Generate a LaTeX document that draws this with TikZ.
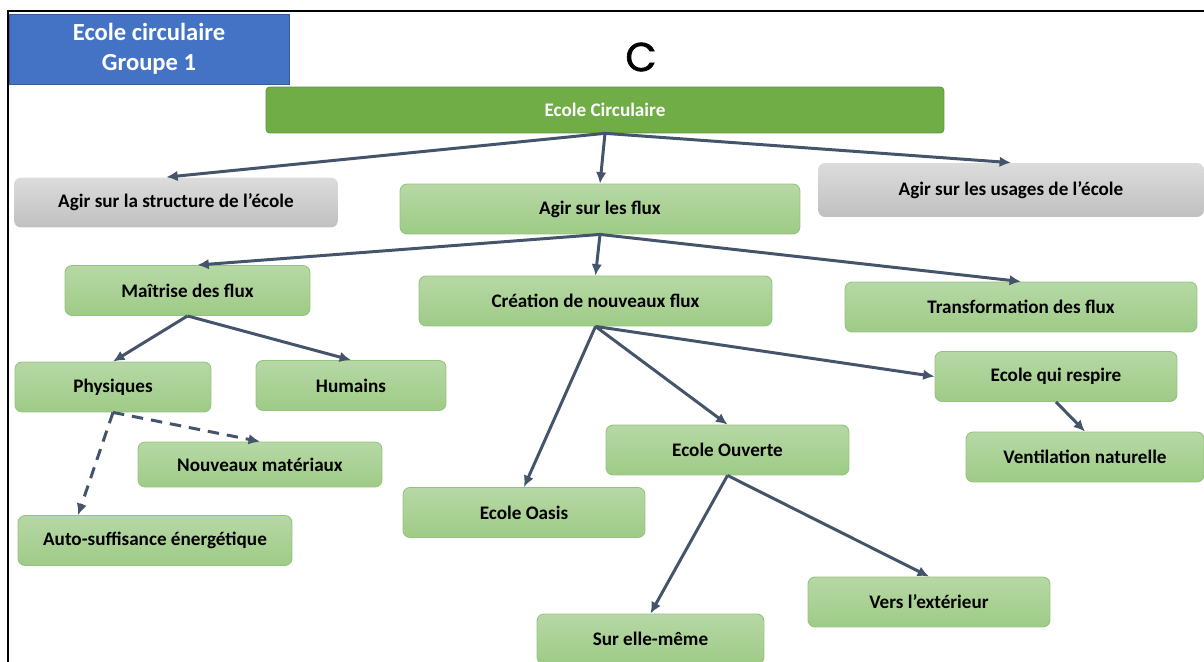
\documentclass[tikz,border=0pt]{standalone}
\usepackage{fontspec}
\setmainfont{Carlito}
\newfontfamily\gothicfont[FakeBold=1.6]{Poppins}
\usetikzlibrary{positioning, arrows.meta, calc}
\definecolor{titleblue}{HTML}{4472C4}
\definecolor{rootgreen}{HTML}{70AD47}
\definecolor{leafTop}{HTML}{B7D8A6}
\definecolor{leafBot}{HTML}{9ECB86}
\definecolor{leafEdge}{HTML}{93C47D}
\definecolor{greyTop}{HTML}{DCDCDC}
\definecolor{greyBot}{HTML}{C0C0C0}
\definecolor{linkcol}{HTML}{44546A}

\begin{document}
\begin{tikzpicture}[
            x=0.02cm, y=-0.02cm,
            box/.style={rectangle, rounded corners=4pt, minimum height=1cm,
                        font=\fontsize{10.9}{12}\selectfont\bfseries, align=center, inner sep=2pt},
            flux/.style={box, top color=leafTop, bottom color=leafBot, draw=leafEdge, line width=0.5pt},
            grey/.style={box, top color=greyTop, bottom color=greyBot, draw=none},
            root/.style={box, fill=rootgreen, draw=rootgreen!85!black, text=white, rounded corners=2pt,
                         line width=0.4pt},
            arrow/.style={-{Latex[length=6.5pt, width=6pt]}, line width=1.7pt, draw=linkcol},
            dasharrow/.style={arrow, dash pattern=on 6.5pt off 4.5pt},
        ]
            \useasboundingbox (0,0) rectangle (1204,662);

            % Frame and heading
            \draw[line width=1.2pt] (8,662) -- (8,11) -- (1204,11);
            \node[rectangle, fill=titleblue, draw=titleblue!80!black, line width=0.4pt,
                  minimum width=5.6cm, minimum height=1.4cm, text=white, align=center,
                  font=\fontsize{14}{17}\selectfont\bfseries] (title) at (149,49)
                {Ecole circulaire\\Groupe 1};
            \node[font=\gothicfont\fontsize{23}{26}\selectfont] (letter) at (641,57) {C};

            % Top levels
            \node[root, minimum width=13.56cm, minimum height=0.92cm] (ecole) at (605,110) {Ecole Circulaire};
            \node[grey, minimum width=6.48cm] (structure) at (176,202.5) {Agir sur la structure de l’école};
            \node[flux, minimum width=8cm] (agir) at (600,209) {Agir sur les flux};
            \node[grey, minimum width=7.72cm, minimum height=1.08cm] (usages) at (1011,190) {Agir sur les usages de l’école};

            \node[flux, minimum width=4.9cm] (maitrise) at (187.5,290.5) {Maîtrise des flux};
            \node[flux, minimum width=7.06cm] (creation) at (595.5,301) {Création de nouveaux flux};
            \node[flux, minimum width=7.04cm] (transfo) at (1021,307) {Transformation des flux};

            % Maitrise branch
            \node[flux, minimum width=3.92cm] (physiques) at (113,387) {Physiques};
            \node[flux, minimum width=3.8cm] (humains) at (351,385.5) {Humains};
            \node[flux, minimum width=4.88cm, minimum height=0.9cm] (materiaux) at (260,464.5) {Nouveaux matériaux};
            \node[flux, minimum width=5.48cm] (autonomie) at (155,540.5) {Auto-suffisance énergétique};

            % Creation branch
            \node[flux, minimum width=4.84cm] (oasis) at (524,512.5) {Ecole Oasis};
            \node[flux, minimum width=4.86cm] (ouverte) at (727.5,450) {Ecole Ouverte};
            \node[flux, minimum width=4.84cm] (respire) at (1056,376.5) {Ecole qui respire};
            \node[flux, minimum width=4.76cm] (ventilation) at (1085,457) {Ventilation naturelle};
            \node[flux, minimum width=4.84cm] (exterieur) at (929,602) {Vers l’extérieur};
            \node[flux, minimum width=4.54cm] (soi) at (650.5,639) {Sur elle-même};

            % Connectors
            \draw[arrow] (ecole.south) -- ($(structure.north west)!0.47!(structure.north east)$);
            \draw[arrow] (ecole.south) -- (agir.north);
            \draw[arrow] (ecole.south) -- (usages.north);
            \draw[arrow] (agir.south) -- ($(maitrise.north west)!0.54!(maitrise.north east)$);
            \draw[arrow] (agir.south) -- (creation.north);
            \draw[arrow] (agir.south) -- (transfo.north);
            \draw[arrow] (maitrise.south) -- (physiques.north);
            \draw[arrow] (maitrise.south) -- (humains.north);
            \draw[dasharrow] (physiques.south) -- (materiaux.north);
            \draw[dasharrow] (physiques.south) -- ($(autonomie.north west)!0.22!(autonomie.north east)$);
            \draw[arrow] (creation.south) -- (oasis.north);
            \draw[arrow] (creation.south) -- (ouverte.north);
            \draw[arrow] (creation.south) -- (respire.west);
            \draw[arrow] (respire.south) -- (ventilation.north);
            \draw[arrow] (ouverte.south) -- (soi.north);
            \draw[arrow] (ouverte.south) -- (exterieur.north);
        \end{tikzpicture}
\end{document}
